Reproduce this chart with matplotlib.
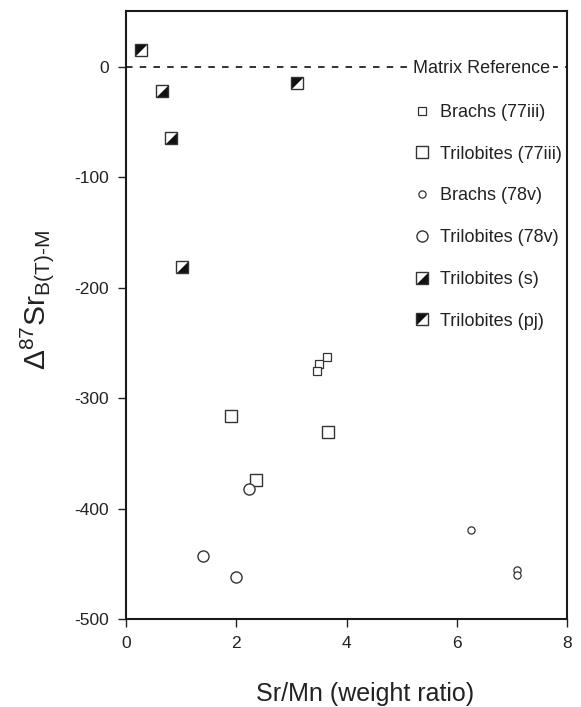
import matplotlib
matplotlib.use("Agg")
import matplotlib.pyplot as plt
from matplotlib.legend_handler import HandlerTuple

plt.rcParams["font.family"] = ["Liberation Sans", "DejaVu Sans"]
plt.rcParams["mathtext.fontset"] = "custom"
plt.rcParams["mathtext.rm"] = "Liberation Sans"
plt.rcParams["mathtext.it"] = "Liberation Sans"
plt.rcParams["mathtext.bf"] = "Liberation Sans:bold"
plt.rcParams["axes.unicode_minus"] = False

# Sr/Mn (weight ratio) and Delta87Sr B(T)-M for each sample group
brachs_77iii_x = [3.64, 3.51, 3.47]
brachs_77iii_y = [-263, -269, -275]

trilo_77iii_x = [1.91, 3.67, 2.36]
trilo_77iii_y = [-316, -331, -374]

brachs_78v_x = [6.26, 7.09, 7.09]
brachs_78v_y = [-419, -456, -460]

trilo_78v_x = [2.24, 1.40, 1.99]
trilo_78v_y = [-382, -443, -462]

trilo_s_x = [0.66, 0.81, 1.01]
trilo_s_y = [-22, -64, -181]

trilo_pj_x = [0.27, 3.10]
trilo_pj_y = [15, -15]

matrix_ref = 0

x_ticks = [0, 2, 4, 6, 8]
y_ticks = [-500, -400, -300, -200, -100, 0]

fig = plt.figure(figsize=(5.81, 7.07), dpi=100)
ax = fig.add_axes([0.2169, 0.1245, 0.7590, 0.8600])

# half-filled square glyphs: black triangle + square outline
tri_lower_right = [(-1, -1), (1, -1), (1, 1), (-1, -1)]
tri_upper_left = [(-1, -1), (1, 1), (-1, 1), (-1, -1)]

ax.axhline(matrix_ref, color="#222222", lw=1.3, dashes=(3.6, 4.0), zorder=1)
ax.text(5.21, matrix_ref - 1.5, "Matrix Reference", fontsize=13, ha="left", va="center",
        color="#222222", bbox=dict(facecolor="white", edgecolor="none", pad=2), zorder=2)

ec = "#333333"
h1, = ax.plot(brachs_77iii_x, brachs_77iii_y, ls="none", marker="s", ms=5.8,
              mfc="white", mec=ec, mew=0.9, zorder=3)
h2, = ax.plot(trilo_77iii_x, trilo_77iii_y, ls="none", marker="s", ms=8,
              mfc="white", mec=ec, mew=1.0, zorder=3)
h3, = ax.plot(brachs_78v_x, brachs_78v_y, ls="none", marker="o", ms=5.2,
              mfc="white", mec=ec, mew=0.9, zorder=3)
h4, = ax.plot(trilo_78v_x, trilo_78v_y, ls="none", marker="o", ms=8,
              mfc="white", mec=ec, mew=1.0, zorder=3)

h5a, = ax.plot(trilo_s_x, trilo_s_y, ls="none", marker=tri_lower_right, ms=8,
               mfc="#111111", mec="none", zorder=3)
h5b, = ax.plot(trilo_s_x, trilo_s_y, ls="none", marker="s", ms=8,
               mfc="none", mec=ec, mew=1.0, zorder=4)
h6a, = ax.plot(trilo_pj_x, trilo_pj_y, ls="none", marker=tri_upper_left, ms=8,
               mfc="#111111", mec="none", zorder=3)
h6b, = ax.plot(trilo_pj_x, trilo_pj_y, ls="none", marker="s", ms=8,
               mfc="none", mec=ec, mew=1.0, zorder=4)

labels = ["Brachs (77iii)", "Trilobites (77iii)", "Brachs (78v)",
          "Trilobites (78v)", "Trilobites (s)", "Trilobites (pj)"]
handles = [h1, h2, h3, h4, (h5a, h5b), (h6a, h6b)]
leg = ax.legend(handles, labels, loc="upper left", bbox_to_anchor=(0.651, 0.847),
                frameon=False, fontsize=13, handlelength=1.0, handletextpad=0.5,
                labelspacing=1.37, borderpad=0, borderaxespad=0,
                handler_map={tuple: HandlerTuple(ndivide=1)})
for t in leg.get_texts():
    t.set_color("#222222")

ax.set_xlim(0, 8)
ax.set_ylim(-500, 50.7)
ax.set_xticks(x_ticks)
ax.set_xticklabels([str(v) for v in x_ticks])
ax.set_yticks(y_ticks)
ax.set_yticklabels([str(v) for v in y_ticks])
ax.tick_params(direction="out", length=6, width=1.0, labelsize=12.5,
               colors="#222222", labelcolor="#222222")
ax.tick_params(axis="x", pad=6)
ax.tick_params(axis="y", pad=6)
for s in ax.spines.values():
    s.set_linewidth(1.5)
    s.set_color("#1a1a1a")

ax.set_xlabel("Sr/Mn (weight ratio)", fontsize=18, color="#222222")
ax.xaxis.set_label_coords(0.541, -0.103)
ax.set_ylabel(r"$\Delta^{87}\mathregular{Sr}_{\mathregular{B(T)\text{-}M}}$",
              fontsize=21.5, color="#222222")
ax.yaxis.set_label_coords(-0.158, 0.525)

fig.savefig("out.png", dpi=100)
